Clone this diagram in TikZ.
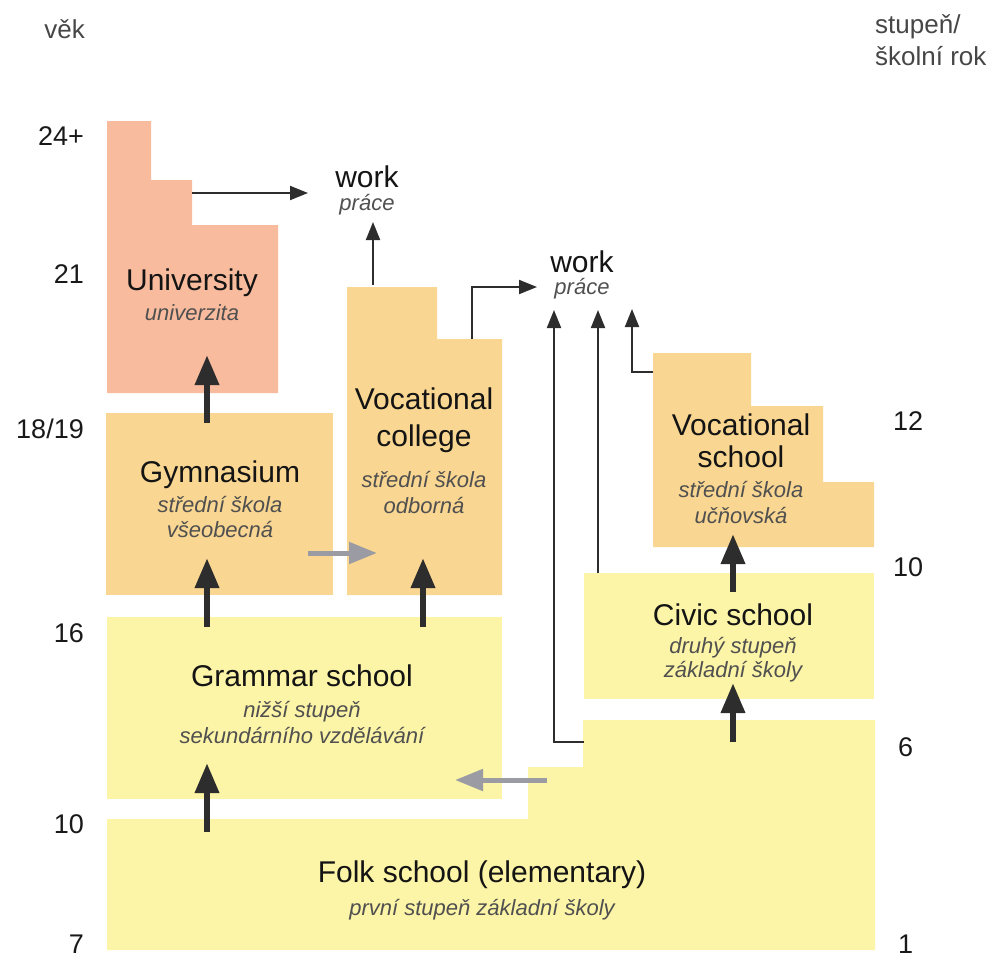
\documentclass[tikz,border=0pt]{standalone}
\usepackage{fontspec}
\setmainfont{Liberation Sans}
\usetikzlibrary{arrows.meta}
\definecolor{unifill}{RGB}{248,187,157}
\definecolor{midfill}{RGB}{249,214,145}
\definecolor{lowfill}{RGB}{252,244,166}
\definecolor{ink}{RGB}{45,45,45}
\definecolor{greyarrow}{RGB}{155,155,163}
\definecolor{subgrey}{RGB}{80,80,80}
\definecolor{hdrgrey}{RGB}{70,70,70}
\tikzset{
  titletext/.style={font=\fontsize{30}{36}\selectfont, text=black!92, inner sep=0pt, anchor=base},
  subtext/.style={font=\fontsize{22}{26}\selectfont\itshape, text=subgrey, inner sep=0pt, anchor=base},
  agetext/.style={font=\fontsize{27}{32}\selectfont, text=black!90, inner sep=0pt, anchor=base east},
  gradetext/.style={font=\fontsize{27}{32}\selectfont, text=black!90, inner sep=0pt, anchor=base west},
  hdrtext/.style={font=\fontsize{26}{31}\selectfont, text=hdrgrey, inner sep=0pt},
  thickarrow/.style={draw=ink, line width=6.5pt, -{Triangle[length=30pt 0 0, width=23pt 0 0]}},
  greyarr/.style={draw=greyarrow, line width=5pt, -{Triangle[length=28pt 0 0, width=21pt 0 0]}},
  thinarrow/.style={draw=ink, line width=2pt, -{Triangle[length=18pt 0 0, width=14pt 0 0]}},
}
\begin{document}
\begin{tikzpicture}[x=1pt,y=-1pt]
\useasboundingbox (0,0) rectangle (995,962);

% shapes
\fill[unifill] (107,121) -- (151,121) -- (151,180) -- (192,180) -- (192,225) -- (278,225) -- (278,393) -- (107,393) -- cycle;
\fill[midfill] (106,413) rectangle (333,595);
\fill[midfill] (347,287) -- (437,287) -- (437,339) -- (502,339) -- (502,595) -- (347,595) -- cycle;
\fill[midfill] (653,353) -- (751,353) -- (751,406) -- (823,406) -- (823,482) -- (874,482) -- (874,547) -- (653,547) -- cycle;
\fill[lowfill] (107,617) rectangle (502,799);
\fill[lowfill] (584,573) rectangle (874,699);
\fill[lowfill] (107,819) -- (528,819) -- (528,767) -- (583,767) -- (583,720) -- (875,720) -- (875,950) -- (107,950) -- cycle;

% headers
\node[hdrtext, anchor=base east] (vek) at (85,38) {věk};
\node[hdrtext, anchor=base west] (stup1) at (875,33) {stupeň/};
\node[hdrtext, anchor=base west] (stup2) at (875,65) {školní rok};

% ages
\node[agetext] (a24) at (84,145) {24+};
\node[agetext] (a21) at (84,283) {21};
\node[agetext] (a18) at (84,438) {18/19};
\node[agetext] (a16) at (84,642) {16};
\node[agetext] (a10) at (84,833) {10};
\node[agetext] (a7) at (84,953) {7};

% grades
\node[gradetext] (g12) at (893,430) {12};
\node[gradetext] (g10) at (893,576) {10};
\node[gradetext] (g6) at (898,756) {6};
\node[gradetext] (g1) at (898,953) {1};

% box texts
\node[titletext] (uniT) at (192,290) {University};
\node[subtext] (uniS) at (192,320) {univerzita};

\node[titletext] (gymT) at (220,482) {Gymnasium};
\node[subtext] (gymS1) at (220,512) {střední škola};
\node[subtext] (gymS2) at (220,537) {všeobecná};

\node[titletext] (vcT1) at (424,409) {Vocational};
\node[titletext] (vcT2) at (424,446) {college};
\node[subtext] (vcS1) at (424,487) {střední škola};
\node[subtext] (vcS2) at (424,513) {odborná};

\node[titletext] (vsT1) at (741,435) {Vocational};
\node[titletext] (vsT2) at (741,467) {school};
\node[subtext] (vsS1) at (741,497) {střední škola};
\node[subtext] (vsS2) at (741,523) {učňovská};

\node[titletext] (gsT) at (302,686) {Grammar school};
\node[subtext] (gsS1) at (302,717) {nižší stupeň};
\node[subtext] (gsS2) at (302,743) {sekundárního vzdělávání};

\node[titletext] (csT) at (733,625) {Civic school};
\node[subtext] (csS1) at (733,653) {druhý stupeň};
\node[subtext] (csS2) at (733,677) {základní školy};

\node[titletext] (fsT) at (482,882) {Folk school (elementary)};
\node[subtext] (fsS) at (482,915) {první stupeň základní školy};

\node[titletext] (w1T) at (367,187) {work};
\node[subtext] (w1S) at (367,210) {práce};
\node[titletext] (w2T) at (582,272) {work};
\node[subtext] (w2S) at (582,294) {práce};

% connector end points
\coordinate (uniOut) at (192,193);
\coordinate (w1Left) at (308,193);
\coordinate (vcTop) at (373,285);
\coordinate (w1Below) at (373,222);
\coordinate (vcStep) at (472,339);
\coordinate (w2Left) at (537,287);
\coordinate (fsStep) at (584,742);
\coordinate (w2BelowA) at (554,310);
\coordinate (csTop) at (598,573);
\coordinate (w2BelowB) at (598,310);
\coordinate (vsLeft) at (653,372);
\coordinate (w2BelowC) at (632,309);

\coordinate (gymUp) at (207,423);
\coordinate (uniIn) at (207,355);
\coordinate (gsUpL) at (207,627);
\coordinate (gymIn) at (207,558);
\coordinate (gsUpR) at (423,627);
\coordinate (vcIn) at (423,558);
\coordinate (fsUpL) at (207,832);
\coordinate (gsIn) at (207,763);
\coordinate (fsUpR) at (733,742);
\coordinate (csIn) at (733,683);
\coordinate (csUp) at (733,592);
\coordinate (vsIn) at (733,534);

\coordinate (gymSide) at (308,553);
\coordinate (vcSide) at (377,553);
\coordinate (fsSide) at (547,780);
\coordinate (gsSide) at (455,780);

% thick arrows
\draw[thickarrow] (gymUp) -- (uniIn);
\draw[thickarrow] (gsUpL) -- (gymIn);
\draw[thickarrow] (gsUpR) -- (vcIn);
\draw[thickarrow] (fsUpL) -- (gsIn);
\draw[thickarrow] (fsUpR) -- (csIn);
\draw[thickarrow] (csUp) -- (vsIn);

% grey arrows
\draw[greyarr] (gymSide) -- (vcSide);
\draw[greyarr] (fsSide) -- (gsSide);

% thin arrows to work
\draw[thinarrow] (uniOut) -- (w1Left);
\draw[thinarrow] (vcTop) -- (w1Below);
\draw[thinarrow] (vcStep) |- (w2Left);
\draw[thinarrow] (fsStep) -| (w2BelowA);
\draw[thinarrow] (csTop) -- (w2BelowB);
\draw[thinarrow] (vsLeft) -| (w2BelowC);
\end{tikzpicture}
\end{document}
